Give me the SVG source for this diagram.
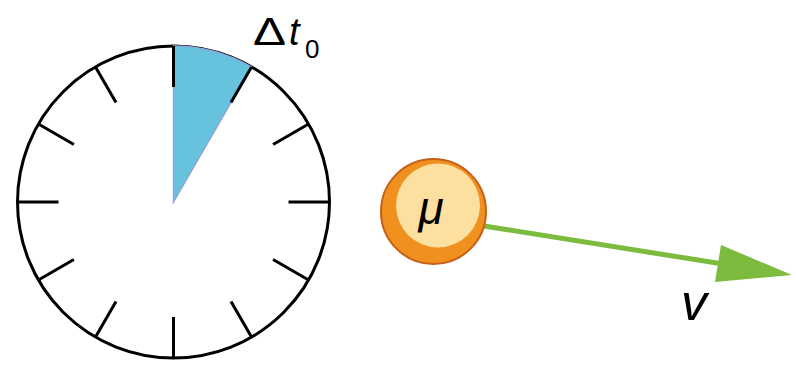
<svg xmlns="http://www.w3.org/2000/svg" width="796" height="370" viewBox="0 0 796 370">
<style>
.tick{stroke:#000;stroke-width:3;stroke-linecap:butt}
.lbl{font-family:"Liberation Sans",Arial,sans-serif;fill:#000}
</style>
<rect width="796" height="370" fill="#fff"/>
<g id="clock">
<circle cx="173.5" cy="202" r="156" fill="#fff" stroke="#000" stroke-width="3"/>
<path d="M173.5,202 L173.5,46 A156,156 0 0 1 251.5,66.9 Z" fill="#67c3dd" stroke="#8aa6d6" stroke-width="1.5"/>
<g transform="translate(173.5,202)">
<line class="tick" x1="0" y1="-156" x2="0" y2="-115" transform="rotate(0)"/>
<line class="tick" x1="0" y1="-156" x2="0" y2="-115" transform="rotate(30)"/>
<line class="tick" x1="0" y1="-156" x2="0" y2="-115" transform="rotate(60)"/>
<line class="tick" x1="0" y1="-156" x2="0" y2="-115" transform="rotate(90)"/>
<line class="tick" x1="0" y1="-156" x2="0" y2="-115" transform="rotate(120)"/>
<line class="tick" x1="0" y1="-156" x2="0" y2="-115" transform="rotate(150)"/>
<line class="tick" x1="0" y1="-156" x2="0" y2="-115" transform="rotate(180)"/>
<line class="tick" x1="0" y1="-156" x2="0" y2="-115" transform="rotate(210)"/>
<line class="tick" x1="0" y1="-156" x2="0" y2="-115" transform="rotate(240)"/>
<line class="tick" x1="0" y1="-156" x2="0" y2="-115" transform="rotate(270)"/>
<line class="tick" x1="0" y1="-156" x2="0" y2="-115" transform="rotate(300)"/>
<line class="tick" x1="0" y1="-156" x2="0" y2="-115" transform="rotate(330)"/>
</g>
</g>
<g id="label-dt">
<text class="lbl" x="253" y="45" font-size="38" textLength="33" lengthAdjust="spacingAndGlyphs">Δ</text>
<text class="lbl" x="289" y="45" font-size="38" font-style="italic">t</text>
<text class="lbl" x="305" y="58" font-size="26">0</text>
</g>
<g id="connectors">
<line x1="484" y1="226" x2="720" y2="263.5" stroke="#7cbb3e" stroke-width="5"/>
<polygon points="792,275 715,282 721,245" fill="#7cbb3e"/>
</g>
<g id="muon">
<circle cx="433.5" cy="211.5" r="52.5" fill="#f0901e" stroke="#c65f18" stroke-width="2"/>
<circle cx="438" cy="205.5" r="42" fill="#fddf9f"/>
<text class="lbl" x="431" y="224" font-size="46" font-style="italic" text-anchor="middle">μ</text>
</g>
<g id="label-v">
<text class="lbl" x="694" y="320" font-size="52" font-style="italic" text-anchor="middle">v</text>
</g>
</svg>
